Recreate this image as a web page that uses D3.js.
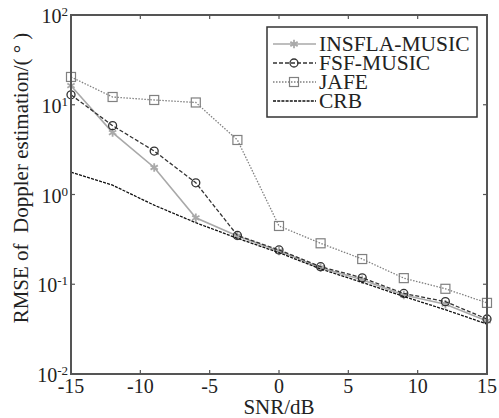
<!DOCTYPE html>
<html>
<head>
<meta charset="utf-8">
<script src="https://cdn.jsdelivr.net/npm/d3@7"></script>
<style>
  body { margin: 0; background: #fff; }
</style>
</head>
<body>
<svg id="chart" width="499" height="418"></svg>
<script>
const snr = [-15, -12, -9, -6, -3, 0, 3, 6, 9, 12, 15];
const insfla = [16.3, 4.9, 2.0, 0.55, 0.345, 0.235, 0.153, 0.112, 0.076, 0.06, 0.039];
const fsf = [12.9, 5.85, 3.05, 1.35, 0.35, 0.241, 0.157, 0.118, 0.079, 0.064, 0.041];
const jafe = [20.4, 12.2, 11.3, 10.6, 4.05, 0.446, 0.286, 0.191, 0.117, 0.089, 0.062];
const crb = [1.77, 1.27, 0.76, 0.485, 0.325, 0.225, 0.148, 0.105, 0.073, 0.052, 0.036];

const xTicks = [-15, -10, -5, 0, 5, 10, 15];
const yTicks = [0.01, 0.1, 1, 10, 100];
const yExp = ["-2", "-1", "0", "1", "2"];

const seriesNames = ["INSFLA-MUSIC", "FSF-MUSIC", "JAFE", "CRB"];
const seriesValues = [insfla, fsf, jafe, crb];

const margin = { top: 15, right: 12, bottom: 44, left: 71 };
const width = 499 - margin.left - margin.right;
const height = 418 - margin.top - margin.bottom;
const serif = "'Liberation Serif', 'DejaVu Serif', 'Times New Roman', serif";

const styles = {
    "INSFLA-MUSIC": { color: "#a9a9a9", dash: null, marker: "star", width: 1.6 },
    "FSF-MUSIC": { color: "#333", dash: "4,2", marker: "circle", width: 1.3 },
    "JAFE": { color: "#808080", dash: "1.5,1.5", marker: "square", width: 1.3 },
    "CRB": { color: "#111", dash: "3,1.2", marker: null, width: 1.3 }
};

const svg = d3.select("#chart")
    .attr("font-family", serif)
    .style("font-family", serif);
const g = svg.append("g").attr("transform", `translate(${margin.left},${margin.top})`);

const x = d3.scaleLinear().domain([-15, 15]).range([0, width]);
const y = d3.scaleLog().domain([0.01, 100]).range([height, 0]);

const line = d3.line().x(d => x(d[0])).y(d => y(d[1]));

function drawMarker(sel, type, color) {
    if (type === "circle") {
        sel.append("circle").attr("r", 4).attr("fill", "none")
            .attr("stroke", color).attr("stroke-width", 1.3);
    } else if (type === "square") {
        sel.append("rect").attr("x", -4.5).attr("y", -4.5).attr("width", 9).attr("height", 9)
            .attr("fill", "none").attr("stroke", color).attr("stroke-width", 1.2);
    } else if (type === "star") {
        sel.append("path").attr("d", d3.symbol(d3.symbolAsterisk, 50)())
            .attr("fill", "none").attr("stroke", color).attr("stroke-width", 1.8);
    }
}

seriesNames.forEach((name, i) => {
    const st = styles[name];
    const pts = snr.map((s, j) => [s, seriesValues[i][j]]);
    g.append("path")
        .datum(pts)
        .attr("fill", "none")
        .attr("stroke", st.color)
        .attr("stroke-width", st.width)
        .attr("stroke-dasharray", st.dash)
        .attr("d", line);
    if (st.marker) {
        g.selectAll(null).data(pts).join("g")
            .attr("transform", d => `translate(${x(d[0])},${y(d[1])})`)
            .each(function () { drawMarker(d3.select(this), st.marker, st.color); });
    }
});

// box and inward ticks on all sides
const axisColor = "#555";
g.append("rect").attr("width", width).attr("height", height)
    .attr("fill", "none").attr("stroke", axisColor).attr("stroke-width", 2);

g.selectAll("line.xt").data(xTicks).join("line")
    .attr("x1", d => x(d)).attr("x2", d => x(d)).attr("y1", height).attr("y2", height - 4)
    .attr("stroke", axisColor).attr("stroke-width", 1.2);
g.selectAll("line.xt2").data(xTicks).join("line")
    .attr("x1", d => x(d)).attr("x2", d => x(d)).attr("y1", 0).attr("y2", 4)
    .attr("stroke", axisColor).attr("stroke-width", 1.2);
g.selectAll("line.yt").data(yTicks).join("line")
    .attr("x1", 0).attr("x2", 4).attr("y1", d => y(d)).attr("y2", d => y(d))
    .attr("stroke", axisColor).attr("stroke-width", 1.2);
g.selectAll("line.yt2").data(yTicks).join("line")
    .attr("x1", width).attr("x2", width - 4).attr("y1", d => y(d)).attr("y2", d => y(d))
    .attr("stroke", axisColor).attr("stroke-width", 1.2);

// x tick labels
g.selectAll("text.xl").data(xTicks).join("text")
    .attr("x", d => x(d)).attr("y", height + 19)
    .attr("text-anchor", "middle")
    .attr("fill", "#222")
    .style("font-size", "20px")
    .text(d => d);

// y tick labels 10^n
yTicks.forEach((v, i) => {
    const t = g.append("text")
        .attr("x", -3).attr("y", y(v) + 8)
        .attr("text-anchor", "end")
        .attr("fill", "#222")
        .style("font-size", "20px");
    t.append("tspan").text("10");
    t.append("tspan").attr("dy", -7).style("font-size", "13px").text(yExp[i]);
});

// axis labels
svg.append("text")
    .attr("x", margin.left + width / 2).attr("y", 414)
    .attr("text-anchor", "middle")
    .attr("fill", "#222")
    .style("font-size", "21px")
    .text("SNR/dB");

svg.append("text")
    .attr("transform", "translate(28,178) rotate(-90)")
    .attr("text-anchor", "middle")
    .attr("fill", "#222")
    .style("font-size", "21px")
    .style("white-space", "pre")
    .text("RMSE of  Doppler estimation/( ° )");

// legend
const lg = svg.append("g").attr("transform", "translate(267,27)");
lg.append("rect").attr("width", 210).attr("height", 90)
    .attr("fill", "#fff").attr("stroke", "#333").attr("stroke-width", 1.5);
seriesNames.forEach((name, i) => {
    const st = styles[name];
    const row = lg.append("g").attr("transform", `translate(0,${17 + i * 19})`);
    row.append("line").attr("x1", 6).attr("x2", 49).attr("y1", 0).attr("y2", 0)
        .attr("stroke", st.color).attr("stroke-width", st.width)
        .attr("stroke-dasharray", st.dash);
    if (st.marker) {
        const m = row.append("g").attr("transform", "translate(27,0)");
        drawMarker(m, st.marker, st.color);
    }
    row.append("text").attr("x", 52).attr("y", 7)
        .attr("fill", "#222")
        .style("font-size", "21.5px")
        .text(name);
});
</script>
</body>
</html>
